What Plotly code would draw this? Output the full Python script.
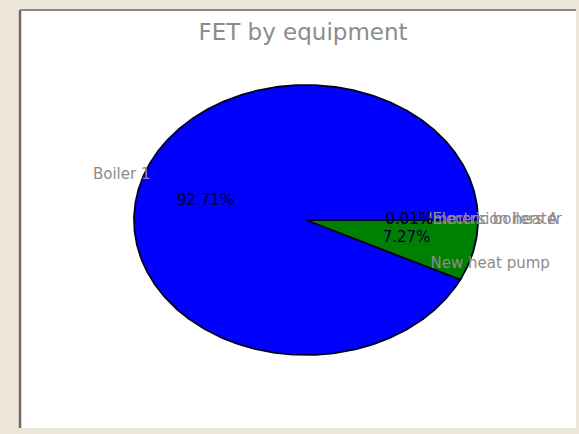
import numpy as np
import plotly.graph_objects as go

# ---- data ----
labels = ["Boiler 1", "New heat pump", "Immersion heater", "Electric boilers A"]
values = [92.71, 7.27, 0.01, 0.01]
colors = ["#0000ff", "#008000", "#ff0000", "#00bfbf"]
title = "FET by equipment"

W, H = 579, 434
cx_px, cy_px = 306, 220      # pie centre in pixels
rx_px, ry_px = 172, 135      # pie radii in pixels
label_rx, label_ry = 1.1, 1.45
pct_r = 0.6

fig = go.Figure()

total = float(sum(values))
fracs = [v / total for v in values]
start = 0.0
mids = []
for lab, f, col in zip(labels, fracs, colors):
    a0 = start * 2 * np.pi
    a1 = (start + f) * 2 * np.pi
    n = max(4, int(f * 720))
    t = np.linspace(a0, a1, n)
    xs = np.concatenate([[0], np.cos(t), [0]])
    ys = np.concatenate([[0], np.sin(t), [0]])
    fig.add_trace(go.Scatter(x=xs, y=ys, fill="toself", fillcolor=col,
                             mode="lines", line=dict(color="#000022", width=1.8),
                             hoverinfo="skip", showlegend=False))
    mids.append((a0 + a1) / 2)
    start += f

mids = np.array(mids)
# names
fig.add_trace(go.Scatter(x=label_rx * np.cos(mids), y=label_ry * np.sin(mids), mode="text",
                         text=labels, textposition="middle center",
                         textfont=dict(family="DejaVu Sans", size=15, color="#8c8c8c"),
                         hoverinfo="skip", showlegend=False, cliponaxis=False))
# percentages
pct = [f"{100 * f:.2f}%" for f in fracs]
fig.add_trace(go.Scatter(x=pct_r * np.cos(mids), y=pct_r * np.sin(mids), mode="text",
                         text=pct, textposition="middle center",
                         textfont=dict(family="DejaVu Sans", size=15, color="#000033"),
                         hoverinfo="skip", showlegend=False, cliponaxis=False))

xr = [(0 - cx_px) / rx_px, (W - cx_px) / rx_px]
yr = [(cy_px - H) / ry_px, (cy_px - 0) / ry_px]

panel = dict(x0=20 / W, x1=576 / W, y0=1 - 428 / H, y1=1 - 10 / H)
fig.update_layout(
    width=W, height=H,
    margin=dict(l=0, r=0, t=0, b=0),
    paper_bgcolor="#ece7d8",
    plot_bgcolor="rgba(0,0,0,0)",
    xaxis=dict(range=xr, visible=False, fixedrange=True),
    yaxis=dict(range=yr, visible=False, fixedrange=True),
    title=dict(text=title, x=303 / W, xanchor="center", y=1 - 32 / H, yanchor="middle",
               font=dict(family="DejaVu Sans", size=23, color="#8c8c8c")),
    shapes=[
        dict(type="rect", xref="paper", yref="paper", layer="below",
             x0=panel["x0"], x1=panel["x1"], y0=panel["y0"], y1=panel["y1"],
             fillcolor="#ffffff", line=dict(width=0)),
        dict(type="line", xref="paper", yref="paper", layer="below",
             x0=panel["x0"], x1=panel["x0"], y0=panel["y0"], y1=panel["y1"],
             line=dict(color="#6e6a62", width=2.5)),
        dict(type="line", xref="paper", yref="paper", layer="below",
             x0=panel["x0"], x1=panel["x1"], y0=panel["y1"], y1=panel["y1"],
             line=dict(color="#8a867e", width=2)),
    ],
)

fig.write_html("out.html")
